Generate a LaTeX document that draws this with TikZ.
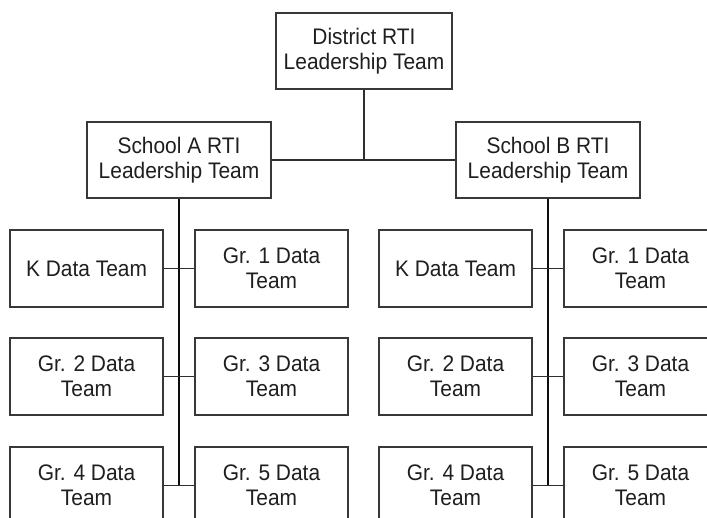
\documentclass[tikz,border=0pt]{standalone}
\usepackage{fontspec}
\setmainfont{Liberation Sans}[FakeStretch=0.93]
\begin{document}
\begin{tikzpicture}[x=1pt,y=-1pt,
  box/.style={draw=black!78, line width=1.1pt, fill=white, inner sep=0pt,
    align=center, text=black!88, font=\fontsize{22.5}{24.5}\selectfont},
  topbox/.style={box, minimum width=176pt, minimum height=76pt},
  schoolbox/.style={box, minimum width=184pt, minimum height=76pt},
  teambox/.style={box, minimum width=153pt, minimum height=77pt},
  link/.style={draw=black!82, line width=1.1pt},
  trunk/.style={draw=black!95, line width=1.5pt}]
\useasboundingbox (0,0) rectangle (707,518);
\clip (0,0) rectangle (707,518);

% leadership teams
\node[topbox] (dist) at (364,51) {District RTI\\Leadership Team};
\node[schoolbox] (sa) at (179,160) {School A RTI\\Leadership Team};
\node[schoolbox] (sb) at (548,160) {School B RTI\\Leadership Team};

% school A data teams
\node[teambox] (ak) at (86.5,268.5) {K Data Team};
\node[teambox] (a1) at (271.5,268.5) {Gr. 1 Data\\Team};
\node[teambox] (a2) at (86.5,376.5) {Gr. 2 Data\\Team};
\node[teambox] (a3) at (271.5,376.5) {Gr. 3 Data\\Team};
\node[teambox] (a4) at (86.5,485.5) {Gr. 4 Data\\Team};
\node[teambox] (a5) at (271.5,485.5) {Gr. 5 Data\\Team};

% school B data teams
\node[teambox] (bk) at (455.5,268.5) {K Data Team};
\node[teambox] (b1) at (640.5,268.5) {Gr. 1 Data\\Team};
\node[teambox] (b2) at (455.5,376.5) {Gr. 2 Data\\Team};
\node[teambox] (b3) at (640.5,376.5) {Gr. 3 Data\\Team};
\node[teambox] (b4) at (455.5,485.5) {Gr. 4 Data\\Team};
\node[teambox] (b5) at (640.5,485.5) {Gr. 5 Data\\Team};

% district to schools
\draw[link] (sa.east) -- (sb.west);
\draw[link] (dist.south) -- (dist.south |- sa.east);

% school trunks
\draw[trunk] (sa.south) -- (sa.south |- a4.east);
\draw[trunk] (sb.south) -- (sb.south |- b4.east);

% grade rows
\draw[link] (ak.east) -- (a1.west);
\draw[link] (a2.east) -- (a3.west);
\draw[link] (a4.east) -- (a5.west);
\draw[link] (bk.east) -- (b1.west);
\draw[link] (b2.east) -- (b3.west);
\draw[link] (b4.east) -- (b5.west);
\end{tikzpicture}
\end{document}
